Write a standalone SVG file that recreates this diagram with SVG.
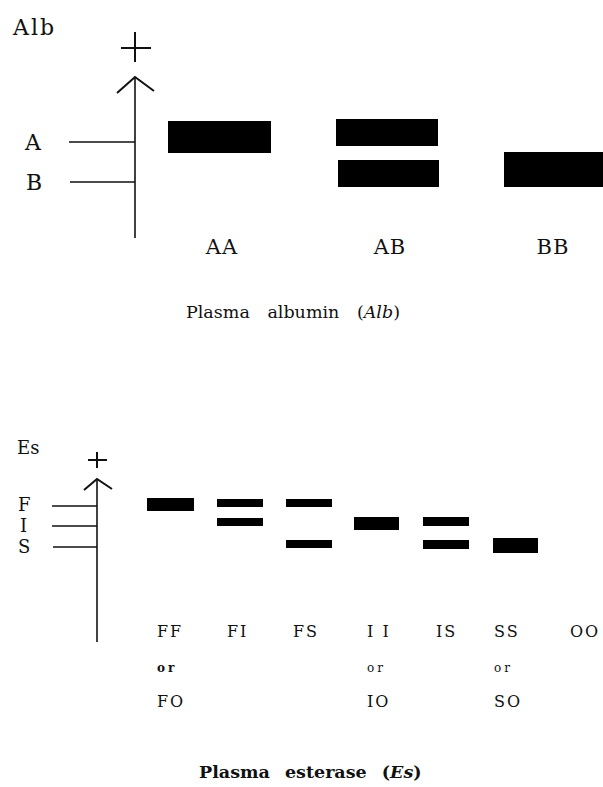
<svg xmlns="http://www.w3.org/2000/svg" width="603" height="787" viewBox="0 0 603 787">
<style>
.t{font-family:"DejaVu Serif","Liberation Serif",serif;fill:#111}
.ax{stroke:#111;stroke-width:1.6;fill:none}
.hd{stroke:#111;stroke-width:2;fill:none}
.band{fill:#000}
.lb{font-size:16px;letter-spacing:2px}
.or{font-size:12px;letter-spacing:3px}
.orb{font-size:12px;letter-spacing:3px;font-weight:bold}
</style>
<rect width="603" height="787" fill="#fff"/>
<!-- Albumin panel -->
<g id="alb-title"><text class="t" x="13" y="35" font-size="22" letter-spacing="2">Alb</text></g>
<g id="alb-axis" class="connectors">
<line class="hd" x1="121" y1="48" x2="151" y2="48"/>
<line class="hd" x1="135" y1="32" x2="135" y2="62"/>
<line class="ax" x1="135" y1="77" x2="135" y2="238"/>
<polyline class="hd" points="117,93 135,77 154,91"/>
<line class="ax" x1="69" y1="142" x2="135" y2="142"/>
<line class="ax" x1="70" y1="182" x2="135" y2="182"/>
</g>
<g id="alb-A"><text class="t" x="25" y="150" font-size="22">A</text></g>
<g id="alb-B"><text class="t" x="26" y="190" font-size="22">B</text></g>
<g id="alb-AA">
<rect class="band" x="168" y="121" width="103" height="32"/>
<text class="t" x="222" y="254" font-size="21" letter-spacing="1" text-anchor="middle">AA</text>
</g>
<g id="alb-AB">
<rect class="band" x="336" y="119" width="102" height="27"/>
<rect class="band" x="338" y="160" width="101" height="27"/>
<text class="t" x="390" y="254" font-size="21" letter-spacing="1" text-anchor="middle">AB</text>
</g>
<g id="alb-BB">
<rect class="band" x="504" y="152" width="99" height="35"/>
<text class="t" x="553" y="254" font-size="21" letter-spacing="1" text-anchor="middle">BB</text>
</g>
<g id="alb-caption"><text class="t" x="186" y="318" font-size="17.5" word-spacing="12">Plasma albumin (<tspan font-style="italic">Alb</tspan>)</text></g>
<!-- Esterase panel -->
<g id="es-title"><text class="t" x="17" y="454" font-size="18">Es</text></g>
<g id="es-axis" class="connectors">
<line class="hd" x1="88" y1="460" x2="107" y2="460"/>
<line class="hd" x1="97" y1="452" x2="97" y2="468"/>
<line class="ax" x1="97" y1="479" x2="97" y2="642"/>
<polyline class="hd" points="84,490 97,479 112,489"/>
<line class="ax" x1="52" y1="506" x2="97" y2="506"/>
<line class="ax" x1="52" y1="526" x2="97" y2="526"/>
<line class="ax" x1="53" y1="547" x2="97" y2="547"/>
</g>
<g id="es-F"><text class="t" x="18" y="511" font-size="18">F</text></g>
<g id="es-I"><text class="t" x="20" y="532" font-size="18">I</text></g>
<g id="es-S"><text class="t" x="18" y="553" font-size="18">S</text></g>
<g id="es-FF">
<rect class="band" x="147" y="498" width="47" height="13"/>
<text class="t lb" x="157" y="637">FF</text>
<text class="t orb" x="157" y="672">or</text>
<text class="t lb" x="157" y="707">FO</text>
</g>
<g id="es-FI">
<rect class="band" x="217" y="499" width="46" height="8"/>
<rect class="band" x="217" y="518" width="46" height="8"/>
<text class="t lb" x="227" y="637">FI</text>
</g>
<g id="es-FS">
<rect class="band" x="286" y="499" width="46" height="8"/>
<rect class="band" x="286" y="540" width="46" height="8"/>
<text class="t lb" x="293" y="637">FS</text>
</g>
<g id="es-II">
<rect class="band" x="354" y="517" width="45" height="13"/>
<text class="t lb" x="367" y="637">I I</text>
<text class="t or" x="367" y="672">or</text>
<text class="t lb" x="367" y="707">IO</text>
</g>
<g id="es-IS">
<rect class="band" x="423" y="517" width="46" height="9"/>
<rect class="band" x="423" y="540" width="46" height="9"/>
<text class="t lb" x="436" y="637">IS</text>
</g>
<g id="es-SS">
<rect class="band" x="493" y="538" width="45" height="15"/>
<text class="t lb" x="494" y="637">SS</text>
<text class="t or" x="494" y="672">or</text>
<text class="t lb" x="494" y="707">SO</text>
</g>
<g id="es-OO"><text class="t lb" x="570" y="637">OO</text></g>
<g id="es-caption"><text class="t" x="199" y="778" font-size="17.5" font-weight="bold" word-spacing="9">Plasma esterase (<tspan font-style="italic">Es</tspan>)</text></g>
</svg>
